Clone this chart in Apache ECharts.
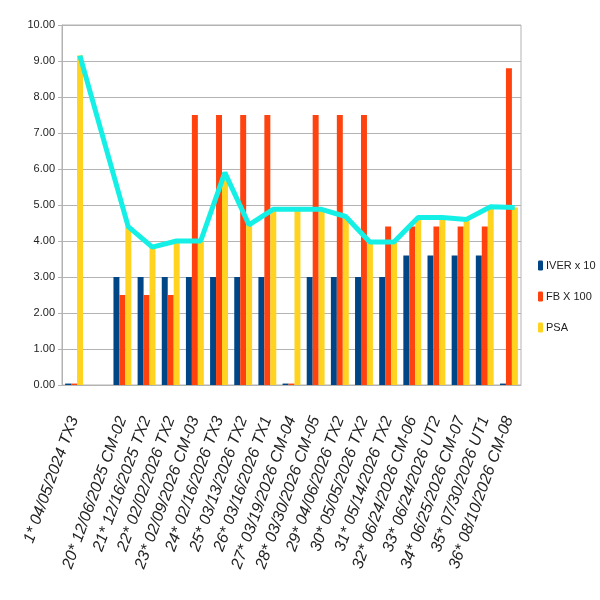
<!DOCTYPE html>
<html>
<head>
<meta charset="utf-8">
<script src="https://cdn.jsdelivr.net/npm/echarts@6/dist/echarts.min.js"></script>
<style>
  html, body { margin: 0; padding: 0; background: #fff; }
  #main { width: 600px; height: 600px; }
</style>
</head>
<body>
<div id="main"></div>
<script>
const categories = [
  '1* 04/05/2024 TX3', '',
  '20* 12/06/2025 CM-02', '21* 12/16/2025 TX2', '22* 02/02/2026 TX2',
  '23* 02/09/2026 CM-03', '24* 02/16/2026 TX3', '25* 03/13/2026 TX2',
  '26* 03/16/2026 TX1', '27* 03/19/2026 CM-04', '28* 03/30/2026 CM-05',
  '29* 04/06/2026 TX2', '30* 05/05/2026 TX2', '31* 05/14/2026 TX2',
  '32* 06/24/2026 CM-06', '33* 06/24/2026 UT2', '34* 06/25/2026 CM-07',
  '35* 07/30/2026 UT1', '36* 08/10/2026 CM-08'
];
const iver = [0.04, null, 3, 3, 3, 3, 3, 3, 3, 0.04, 3, 3, 3, 3, 3.6, 3.6, 3.6, 3.6, 0.04];
const fb = [0.04, null, 2.5, 2.5, 2.5, 7.5, 7.5, 7.5, 7.5, 0.04, 7.5, 7.5, 7.5, 4.4, 4.4, 4.4, 4.4, 4.4, 8.8];
const psa = [9.15, null, 4.4, 3.83, 4.0, 4.0, 5.9, 4.45, 4.88, 4.88, 4.88, 4.68, 3.97, 3.97, 4.65, 4.65, 4.6, 4.95, 4.93];
const seriesNames = ['IVER x 10', 'FB X 100', 'PSA'];

const font = "'Liberation Sans', Arial, sans-serif";
const grey = '#b3b3b3';

// line sits over the PSA bar (third of the three bars)
const psaLine = [];
psa.forEach((v, i) => { if (v != null) psaLine.push([i + 0.24, v]); });

const chart = echarts.init(document.getElementById('main'));
chart.setOption({
  animation: false,
  textStyle: { fontFamily: font },
  grid: { left: 62, right: 79, top: 25, bottom: 215, show: true, borderColor: grey, borderWidth: 1 },
  legend: {
    data: seriesNames,
    orient: 'vertical',
    left: 533,
    top: 255,
    itemWidth: 5,
    itemHeight: 10,
    itemGap: 20,
    textStyle: { fontFamily: font, fontSize: 11, color: '#222', padding: [0, 0, 0, -2] }
  },
  xAxis: [{
    type: 'category',
    data: categories,
    axisLine: { lineStyle: { color: grey } },
    axisTick: { lineStyle: { color: grey }, length: 6 },
    axisLabel: {
      interval: 0, rotate: 70, margin: 32,
      fontSize: 16, fontStyle: 'italic', color: '#222', fontFamily: font
    }
  }, {
    type: 'value', min: -0.5, max: 18.5, show: false
  }],
  yAxis: {
    type: 'value', min: 0, max: 10, interval: 1,
    axisLine: { show: true, onZero: false, lineStyle: { color: grey } },
    axisTick: { show: true, length: 4, lineStyle: { color: grey } },
    splitLine: { lineStyle: { color: grey } },
    axisLabel: { formatter: v => v.toFixed(2), fontSize: 11, color: '#222', margin: 7, fontFamily: font }
  },
  series: [
    { name: seriesNames[0], type: 'bar', data: iver, itemStyle: { color: '#004586' }, barGap: '0%', barCategoryGap: '26%' },
    { name: seriesNames[1], type: 'bar', data: fb, itemStyle: { color: '#ff420e' } },
    { name: seriesNames[2], type: 'bar', data: psa, itemStyle: { color: '#ffd320' } },
    {
      name: 'PSA line', type: 'line', xAxisIndex: 1, data: psaLine,
      symbol: 'none', z: 5,
      lineStyle: { color: '#14f0e6', width: 5 }
    }
  ]
});
</script>
</body>
</html>
